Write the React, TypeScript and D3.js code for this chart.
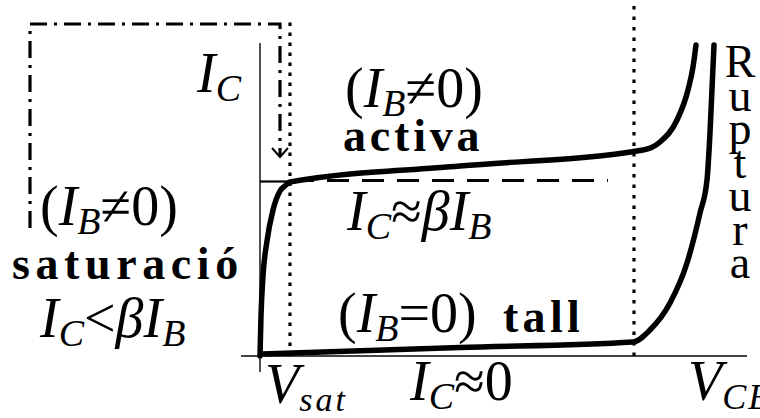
import React from "react";
import * as d3 from "d3";

const W = 760;
const H = 418;

// Collector characteristic for I_B ≠ 0: saturation rise, active plateau, breakdown
const activeVce = [0, 0.1, 0.3, 0.7, 1.3, 2.0, 2.6, 3.0, 20, 38.3, 40, 41.7, 42.8, 43.3, 43.6];
const activeIc = [0, 4, 8, 11.5, 14.6, 16.5, 17.1, 17.4, 19.0, 20.6, 21.4, 23.6, 26.6, 28.9, 31.1];

// Collector characteristic for I_B = 0: cut-off leakage, then breakdown
const cutoffVce = [0.2, 20, 37.3, 39, 41, 42.7, 44, 44.7, 45, 45.4];
const cutoffIc = [0.2, 0.85, 1.4, 2.6, 5.3, 9.3, 14.3, 17.6, 22.3, 31.1];

// Reference levels
const vSat = 3;
const vBreak = 37.4;
const icKnee = 17.45;

// Axis extents
const xAxisRange = [-1.9, 48.7];
const yAxisRange = [-1.6, 31.3];

// Callout path from the saturation label to V_sat
const calloutVce = [-23, -23, 2, 2];
const calloutIc = [12.8, 33.2, 33.2, 19.9];

// Stacked region label at the breakdown side
const breakdownLetters = ["R", "u", "p", "t", "u", "r", "a"];

const x = d3.scaleLinear().domain([0, 50]).range([260, 760]);
const y = d3.scaleLinear().domain([0, 35]).range([356, 6]);

const toPts = (xs: number[], ys: number[]) => xs.map((v, i) => [v, ys[i]] as [number, number]);

const curveLine = d3
  .line<[number, number]>()
  .x((d) => x(d[0]))
  .y((d) => y(d[1]))
  .curve(d3.curveMonotoneX);

const polyLine = d3
  .line<[number, number]>()
  .x((d) => x(d[0]))
  .y((d) => y(d[1]));

const FONT = "Liberation Serif, Tinos, Times New Roman, serif";
const FS = 56;
const SUB = 38;
const SUBDY = 9;
const BOLD = 46;

function Sub({ children, ls, size }: { children: React.ReactNode; ls?: number; size?: number }) {
  return (
    <tspan fontSize={size ?? SUB} dy={SUBDY} fontStyle="italic" letterSpacing={ls}>
      {children}
    </tspan>
  );
}

export default function App() {
  const activePath = curveLine(toPts(activeVce, activeIc)) || "";
  const cutoffPath = curveLine(toPts(cutoffVce, cutoffIc)) || "";
  const calloutPath = polyLine(toPts(calloutVce, calloutIc)) || "";
  const tipX = x(calloutVce[3]);
  const tipY = y(calloutIc[3]);

  return (
    <svg
      width={W}
      height={H}
      viewBox={`0 0 ${W} ${H}`}
      style={{ position: "absolute", left: 0, top: 0, background: "#fff", fontFamily: FONT }}
    >
      {/* axes */}
      <line x1={x(0)} x2={x(0)} y1={y(yAxisRange[0])} y2={y(yAxisRange[1])} stroke="#222" strokeWidth={1.6} />
      <line x1={x(xAxisRange[0])} x2={x(xAxisRange[1])} y1={y(0)} y2={y(0)} stroke="#444" strokeWidth={2} />

      {/* knee reference: solid stub, then dashed β·I_B level */}
      <line x1={x(0)} x2={x(vSat)} y1={y(icKnee)} y2={y(icKnee)} stroke="#000" strokeWidth={2.2} />
      <line
        x1={x(vSat + 0.2)}
        x2={x(34.8)}
        y1={y(icKnee + 0.1)}
        y2={y(icKnee + 0.1)}
        stroke="#000"
        strokeWidth={3}
        strokeDasharray="22 13"
      />

      {/* dotted region boundaries */}
      <line x1={x(vSat)} x2={x(vSat)} y1={y(0)} y2={y(33.6)} stroke="#000" strokeWidth={3.2} strokeDasharray="3.5 6.5" />
      <line x1={x(vBreak)} x2={x(vBreak)} y1={y(0)} y2={y(35.1)} stroke="#000" strokeWidth={3.2} strokeDasharray="3.5 7" />

      {/* callout */}
      <path d={calloutPath} fill="none" stroke="#000" strokeWidth={3.2} strokeDasharray="17 7 3 7" />
      <path
        d={`M${tipX - 8},${tipY - 9}L${tipX},${tipY}L${tipX + 8},${tipY - 9}`}
        fill="none"
        stroke="#000"
        strokeWidth={2}
      />

      {/* characteristic curves */}
      <path d={activePath} fill="none" stroke="#000" strokeWidth={5.5} strokeLinecap="round" strokeLinejoin="round" />
      <path d={cutoffPath} fill="none" stroke="#000" strokeWidth={5.5} strokeLinecap="round" strokeLinejoin="round" />

      {/* labels */}
      <g fontSize={FS} fill="#000" style={{ fontFamily: FONT }}>
        <text x={197} y={92}>
          <tspan fontStyle="italic">I</tspan>
          <Sub>C</Sub>
        </text>

        <text x={345} y={107}>
          <tspan>(</tspan>
          <tspan fontStyle="italic">I</tspan>
          <Sub>B</Sub>
          <tspan dy={-SUBDY}>≠0)</tspan>
        </text>
        <text x={343} y={151} fontWeight="bold" fontSize={BOLD} letterSpacing={3.8}>
          activa
        </text>

        <text x={347} y={230}>
          <tspan fontStyle="italic">I</tspan>
          <Sub>C</Sub>
          <tspan dy={-SUBDY}>≈</tspan>
          <tspan fontStyle="italic">β</tspan>
          <tspan fontStyle="italic">I</tspan>
          <Sub>B</Sub>
        </text>

        <text x={40} y={225}>
          <tspan>(</tspan>
          <tspan fontStyle="italic">I</tspan>
          <Sub>B</Sub>
          <tspan dy={-SUBDY}>≠0)</tspan>
        </text>
        <text x={12} y={279} fontWeight="bold" fontSize={BOLD} letterSpacing={5.6}>
          saturació
        </text>
        <text x={40} y={337}>
          <tspan fontStyle="italic">I</tspan>
          <Sub>C</Sub>
          <tspan dy={-SUBDY}>&lt;</tspan>
          <tspan fontStyle="italic">β</tspan>
          <tspan fontStyle="italic">I</tspan>
          <Sub>B</Sub>
        </text>

        <text x={338} y={332}>
          <tspan>(</tspan>
          <tspan fontStyle="italic">I</tspan>
          <Sub>B</Sub>
          <tspan dy={-SUBDY}>=0)</tspan>
        </text>
        <text x={503} y={332} fontWeight="bold" fontSize={BOLD} letterSpacing={4.3}>
          tall
        </text>

        <text x={265} y={403}>
          <tspan fontStyle="italic">V</tspan>
          <tspan fontSize={34} dy={8} fontStyle="italic" letterSpacing={3}>
            sat
          </tspan>
        </text>
        <text x={410} y={400}>
          <tspan fontStyle="italic">I</tspan>
          <Sub>C</Sub>
          <tspan dy={-SUBDY}>≈0</tspan>
        </text>
        <text x={688} y={400}>
          <tspan fontStyle="italic">V</tspan>
          <Sub ls={2} size={36}>
            CE
          </Sub>
        </text>

        {breakdownLetters.map((ch, i) => (
          <text key={i} x={740} y={77 + i * 33.5} textAnchor="middle" fontSize={46}>
            {ch}
          </text>
        ))}
      </g>
    </svg>
  );
}
